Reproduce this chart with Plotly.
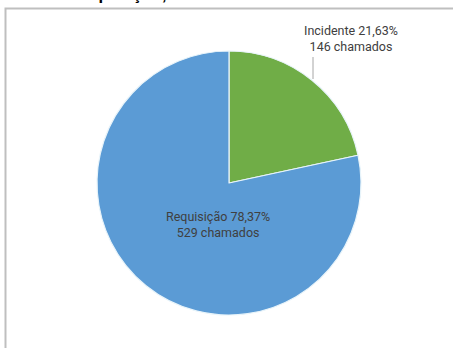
import plotly.graph_objects as go

# Chamados por tipo
categorias = ["Incidente", "Requisição"]
chamados = [146, 529]
cores = ["#70AD47", "#5B9BD5"]

W, H = 453, 348
total = sum(chamados)
pct = [v / total * 100 for v in chamados]

def fmt_pct(p):
    return f"{p:.2f}".replace(".", ",") + "%"

rotulos = [f"{c} {fmt_pct(p)}<br>{v} chamados" for c, p, v in zip(categorias, pct, chamados)]

# Pie geometry in pixels
cx, cy, r = 229, 183, 132

fig = go.Figure(go.Pie(
    labels=categorias,
    values=chamados,
    sort=False,
    direction="clockwise",
    rotation=0,
    marker=dict(colors=cores, line=dict(color="#E8F4FA", width=1.2)),
    textinfo="none",
    hoverinfo="label+value+percent",
    showlegend=False,
    domain=dict(x=[(cx - r) / W, (cx + r) / W], y=[1 - (cy + r) / H, 1 - (cy - r) / H]),
))

fonte = dict(family="Roboto, Liberation Sans, sans-serif", size=12.5, color="#404040")

fig.update_layout(
    width=W, height=H,
    margin=dict(l=0, r=0, t=0, b=0),
    paper_bgcolor="white",
    plot_bgcolor="white",
    shapes=[
        # chart frame
        dict(type="rect", xref="paper", yref="paper",
             x0=5.5 / W, x1=1.2, y0=-0.2, y1=1 - 8.5 / H,
             line=dict(color="#BFBFBF", width=2), fillcolor="rgba(0,0,0,0)", layer="below"),
        # leader line for the outside label
        dict(type="line", xref="paper", yref="paper",
             x0=313 / W, x1=313 / W, y0=1 - 57 / H, y1=1 - 79 / H,
             line=dict(color="#A6A6A6", width=1)),
    ],
    annotations=[
        dict(text="<b>Requisição, Incidente e Total de Chamados</b>", xref="paper", yref="paper",
             x=245 / W, y=1 - 6.5 / H, xanchor="center", yanchor="bottom",
             showarrow=False,
             font=dict(family="Liberation Sans, Arial, sans-serif", size=17, color="#000000"),
             ),
        dict(text=rotulos[0], xref="paper", yref="paper",
             x=351 / W, y=1 - 38.5 / H, xanchor="center", yanchor="middle",
             showarrow=False, font=fonte, align="center"),
        dict(text=rotulos[1], xref="paper", yref="paper",
             x=218 / W, y=1 - 224 / H, xanchor="center", yanchor="middle",
             showarrow=False, font=fonte, align="center"),
    ],
)

fig.write_html("out.html")
